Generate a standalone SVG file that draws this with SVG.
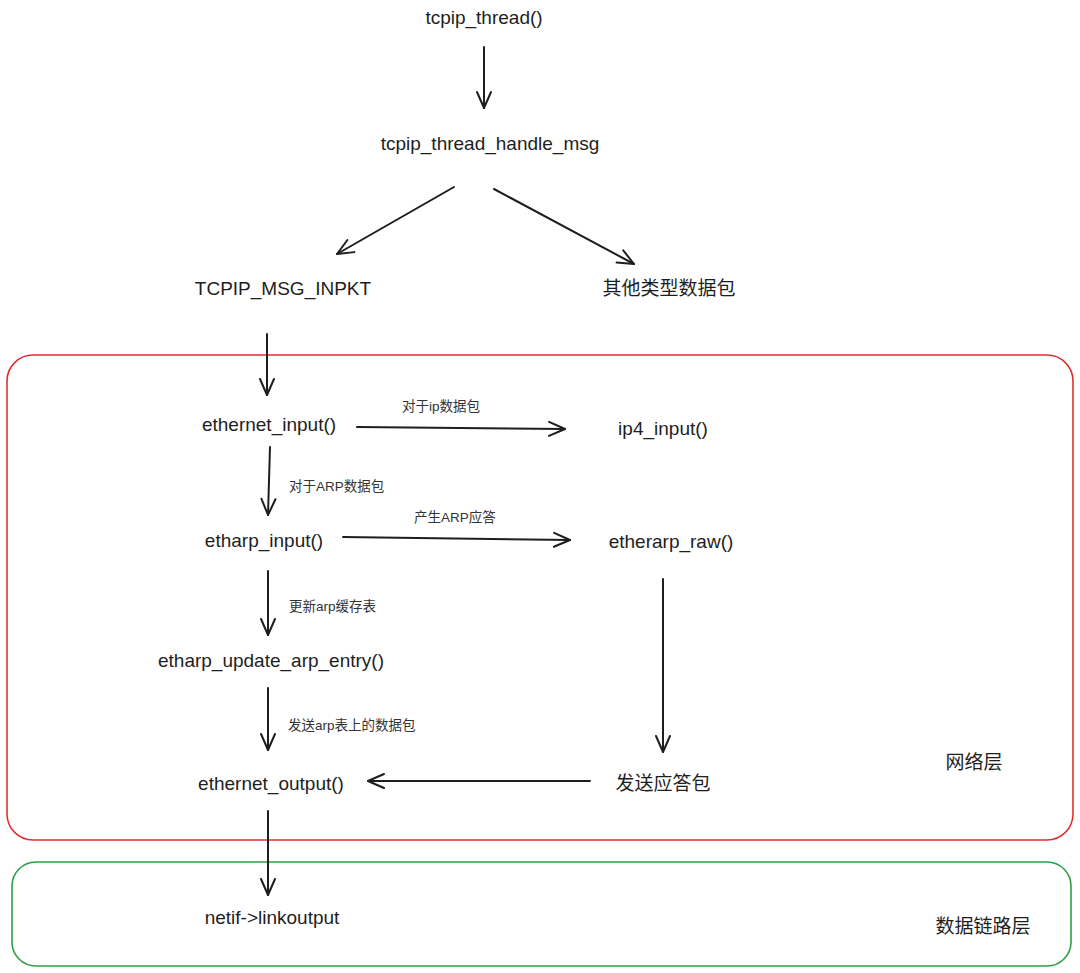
<svg xmlns="http://www.w3.org/2000/svg" width="1080" height="973" viewBox="0 0 1080 973">
<style>
.t{font-family:"Liberation Sans","Noto Sans CJK SC",sans-serif;font-size:19px;fill:#1e1e1e;text-anchor:middle;dominant-baseline:central}
.l{font-family:"Liberation Sans","Noto Sans CJK SC",sans-serif;font-size:13.5px;fill:#333;dominant-baseline:central}
.c{fill:none;stroke:#1e1e1e;stroke-width:2;stroke-linecap:round}
</style>
<defs>
<marker id="a" viewBox="0 0 20 20" refX="18" refY="10" markerWidth="20" markerHeight="20" markerUnits="userSpaceOnUse" orient="auto">
<path d="M2 3 L18 10 L2 17" fill="none" stroke="#1e1e1e" stroke-width="2" stroke-linecap="round" stroke-linejoin="round"/>
</marker>
</defs>
<rect width="1080" height="973" fill="#fff"/>
<g id="layer-net"><rect x="7" y="355" width="1066" height="485" rx="26" fill="none" stroke="#e03131" stroke-width="1.6"/><text class="t" x="974" y="762">网络层</text></g>
<g id="layer-link"><rect x="12" y="862" width="1059" height="104" rx="24" fill="none" stroke="#2f9e44" stroke-width="1.6"/><text class="t" x="983" y="926">数据链路层</text></g>
<g id="connectors">
<path class="c" d="M484 47 L484 108" marker-end="url(#a)"/>
<path class="c" d="M454 187 L337 254" marker-end="url(#a)"/>
<path class="c" d="M494 189 L634 264" marker-end="url(#a)"/>
<path class="c" d="M267 334 L267 395" marker-end="url(#a)"/>
<path class="c" d="M357 427 L565 429" marker-end="url(#a)"/>
<path class="c" d="M270 447 L268 515" marker-end="url(#a)"/>
<path class="c" d="M343 537 L570 540" marker-end="url(#a)"/>
<path class="c" d="M268 571 L268 635" marker-end="url(#a)"/>
<path class="c" d="M268 688 L268 750" marker-end="url(#a)"/>
<path class="c" d="M590 781 L368 781" marker-end="url(#a)"/>
<path class="c" d="M663 579 L663 752" marker-end="url(#a)"/>
<path class="c" d="M268 811 L268 895" marker-end="url(#a)"/>
<text class="l" x="441" y="406" text-anchor="middle">对于ip数据包</text>
<text class="l" x="289" y="486">对于ARP数据包</text>
<text class="l" x="455" y="517" text-anchor="middle">产生ARP应答</text>
<text class="l" x="289" y="606">更新arp缓存表</text>
<text class="l" x="288" y="725">发送arp表上的数据包</text>
</g>
<g id="n-thread"><text class="t" x="484" y="17">tcpip_thread()</text></g>
<g id="n-handle"><text class="t" x="490" y="143">tcpip_thread_handle_msg</text></g>
<g id="n-inpkt"><text class="t" x="283" y="288">TCPIP_MSG_INPKT</text></g>
<g id="n-other"><text class="t" x="669" y="288">其他类型数据包</text></g>
<g id="n-ethin"><text class="t" x="269" y="424">ethernet_input()</text></g>
<g id="n-ip4"><text class="t" x="663" y="428">ip4_input()</text></g>
<g id="n-etharpin"><text class="t" x="264" y="540">etharp_input()</text></g>
<g id="n-raw"><text class="t" x="671" y="541">etherarp_raw()</text></g>
<g id="n-update"><text class="t" x="271" y="660">etharp_update_arp_entry()</text></g>
<g id="n-ethout"><text class="t" x="271" y="783">ethernet_output()</text></g>
<g id="n-reply"><text class="t" x="663" y="783">发送应答包</text></g>
<g id="n-link"><text class="t" x="272" y="917">netif-&gt;linkoutput</text></g>
</svg>
